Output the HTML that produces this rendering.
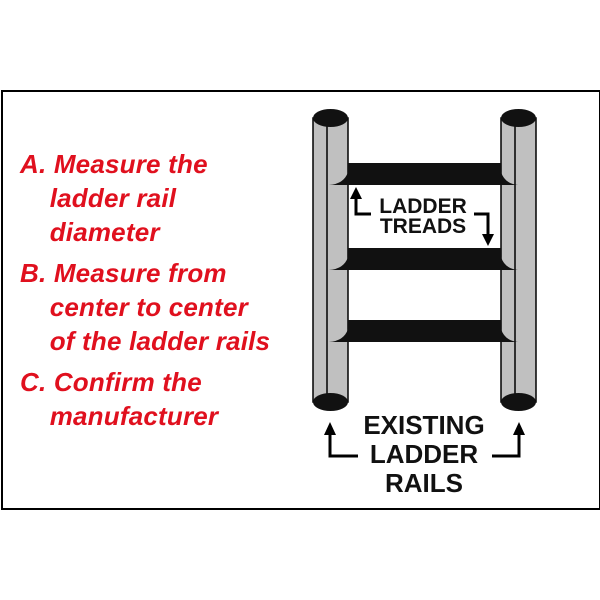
<!DOCTYPE html>
<html><head><style>
body{margin:0;background:#fff;width:600px;height:600px;overflow:hidden;position:relative;font-family:"Liberation Sans",sans-serif}
.frame{position:absolute;left:1px;top:90px;width:596px;height:416px;border:2px solid #000}
.red{position:absolute;left:20px;color:#e0101e;font-family:"Liberation Sans",sans-serif;font-style:italic;font-weight:bold;font-size:26px;line-height:34px;letter-spacing:0.2px}
</style></head><body>
<div class="frame"></div>
<div class="red" style="top:147px">A. Measure the<br>&nbsp;&nbsp;&nbsp;&nbsp;ladder rail<br>&nbsp;&nbsp;&nbsp;&nbsp;diameter</div>
<div class="red" style="top:256px">B. Measure from<br>&nbsp;&nbsp;&nbsp;&nbsp;center to center<br>&nbsp;&nbsp;&nbsp;&nbsp;of the ladder rails</div>
<div class="red" style="top:365px">C. Confirm the<br>&nbsp;&nbsp;&nbsp;&nbsp;manufacturer</div>
<svg width="600" height="600" style="position:absolute;left:0;top:0">
<g stroke="#000" stroke-width="1.5">
<rect x="313" y="118" width="35" height="284" fill="#c0c0c0"/>
<rect x="501" y="118" width="35" height="284" fill="#c0c0c0"/>
<line x1="327" y1="125" x2="327" y2="395"/>
<line x1="515" y1="125" x2="515" y2="395"/>
</g>
<g fill="#111">
<ellipse cx="330.5" cy="118" rx="17.5" ry="9"/>
<ellipse cx="518.5" cy="118" rx="17.5" ry="9"/>
<ellipse cx="330.5" cy="402" rx="17.5" ry="9"/>
<ellipse cx="518.5" cy="402" rx="17.5" ry="9"/>
<path d="M348 163 H501 V172 Q505 184 518 185 H329 Q344 184 348 172 Z"/>
<path d="M348 248 H501 V257 Q505 269 518 270 H329 Q344 269 348 257 Z"/>
<path d="M348 320 H501 V329 Q505 341 518 342 H329 Q344 341 348 329 Z"/>
</g>
<g fill="none" stroke="#000" stroke-width="3">
<path d="M371 214 H356 V196"/>
<path d="M474 214 H488 V236"/>
<path d="M358 456 H330 V434"/>
<path d="M492 456 H519 V434"/>
</g>
<g fill="#000">
<path d="M350 199 L356 187 L362 199 Z"/>
<path d="M482 234 L488 246 L494 234 Z"/>
<path d="M324 435 L330 422 L336 435 Z"/>
<path d="M513 435 L519 422 L525 435 Z"/>
</g>
<g font-family="Liberation Sans,sans-serif" font-weight="bold" text-anchor="middle" fill="#111">
<text x="423" y="213" font-size="21">LADDER</text>
<text x="423" y="233" font-size="21">TREADS</text>
<text x="424" y="434" font-size="26">EXISTING</text>
<text x="424" y="463" font-size="26">LADDER</text>
<text x="424" y="492" font-size="26">RAILS</text>
</g>
</svg>
</body></html>
